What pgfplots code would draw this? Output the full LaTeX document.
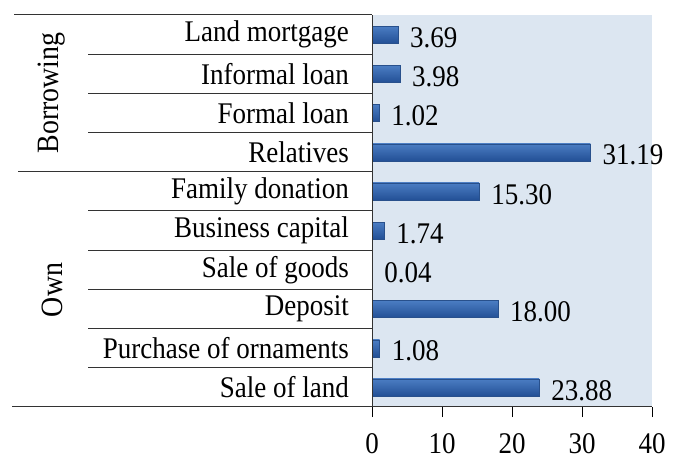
\documentclass[border=0pt]{standalone}
\usepackage{pgfplots}
\pgfplotsset{compat=1.18}
\usepackage{pgfplotstable}
\usepackage{fontspec}
\setmainfont[FakeStretch=0.9]{Liberation Serif}
\definecolor{bgblue}{RGB}{220,230,241}
\definecolor{bartop}{RGB}{75,125,195}
\definecolor{barmid}{RGB}{150,195,240}
\definecolor{barbot}{RGB}{35,80,150}
\definecolor{baredge}{RGB}{40,80,140}
\pgfplotstableread{
y val
0 23.88
1 1.08
2 18.00
3 0.04
4 1.74
5 15.30
6 31.19
7 1.02
8 3.98
9 3.69
}\datatable
\newcommand\lbl{\fontsize{30bp}{34bp}\selectfont}
\begin{document}
\begin{tikzpicture}
\useasboundingbox (0,0) rectangle (677bp,459bp);
\begin{axis}[
  at={(372bp,52bp)}, anchor=south west,
  width=280bp, height=392bp, scale only axis,
  xmin=0, xmax=40, ymin=-0.5, ymax=9.5,
  xtick={0,10,20,30,40},
  ytick={0,...,9},
  yticklabels={Sale of land, Purchase of ornaments, Deposit, Sale of goods, Business capital, Family donation, Relatives, Formal loan, Informal loan, Land mortgage},
  axis line style={draw=none},
  axis background/.style={fill=bgblue},
  xtick pos=left, tick align=outside, major tick length=10bp,
  xtick style={black, line width=1bp},
  ytick style={draw=none},
  ticklabel style={font=\lbl},
  /pgf/number format/assume math mode=true,
  yticklabel style={anchor=east, inner sep=0pt, xshift=-13bp},
  xticklabel style={anchor=north, inner sep=0pt, yshift=-16bp},
  clip=false,
]
\pgfplotsinvokeforeach{0,...,9}{
\addplot[xbar, bar width=17bp, draw=baredge, line width=0.4bp,
  top color=bartop, middle color=barmid, bottom color=barbot,
  restrict y to domain=#1:#1,
  point meta=x,
  nodes near coords={\pgfmathprintnumber[fixed, fixed zerofill, precision=2]{\pgfplotspointmeta}},
  nodes near coords style={anchor=west, inner sep=0pt, xshift=12bp, yshift=-3bp, text=black, font=\lbl},
] table[x=val, y=y] {\datatable};
}
\end{axis}
\begin{scope}[x=1bp, y=1bp, line width=1bp, draw=black!80]
\draw (14,444) -- (372,444);
\foreach \k in {1,2,3,5,6,7,8,9} {
  \draw (88,{444-39.2*\k}) -- (372,{444-39.2*\k});
}
\draw (18,287.2) -- (372,287.2);
\draw (12,52) -- (652,52);
\draw (372,52) -- (372,444);
\end{scope}
\node[rotate=90, font=\fontsize{31bp}{34bp}\selectfont] at (52bp,366bp) {Borrowing};
\node[rotate=90, font=\fontsize{31bp}{34bp}\selectfont] at (52bp,169bp) {Own};
\end{tikzpicture}
\end{document}
